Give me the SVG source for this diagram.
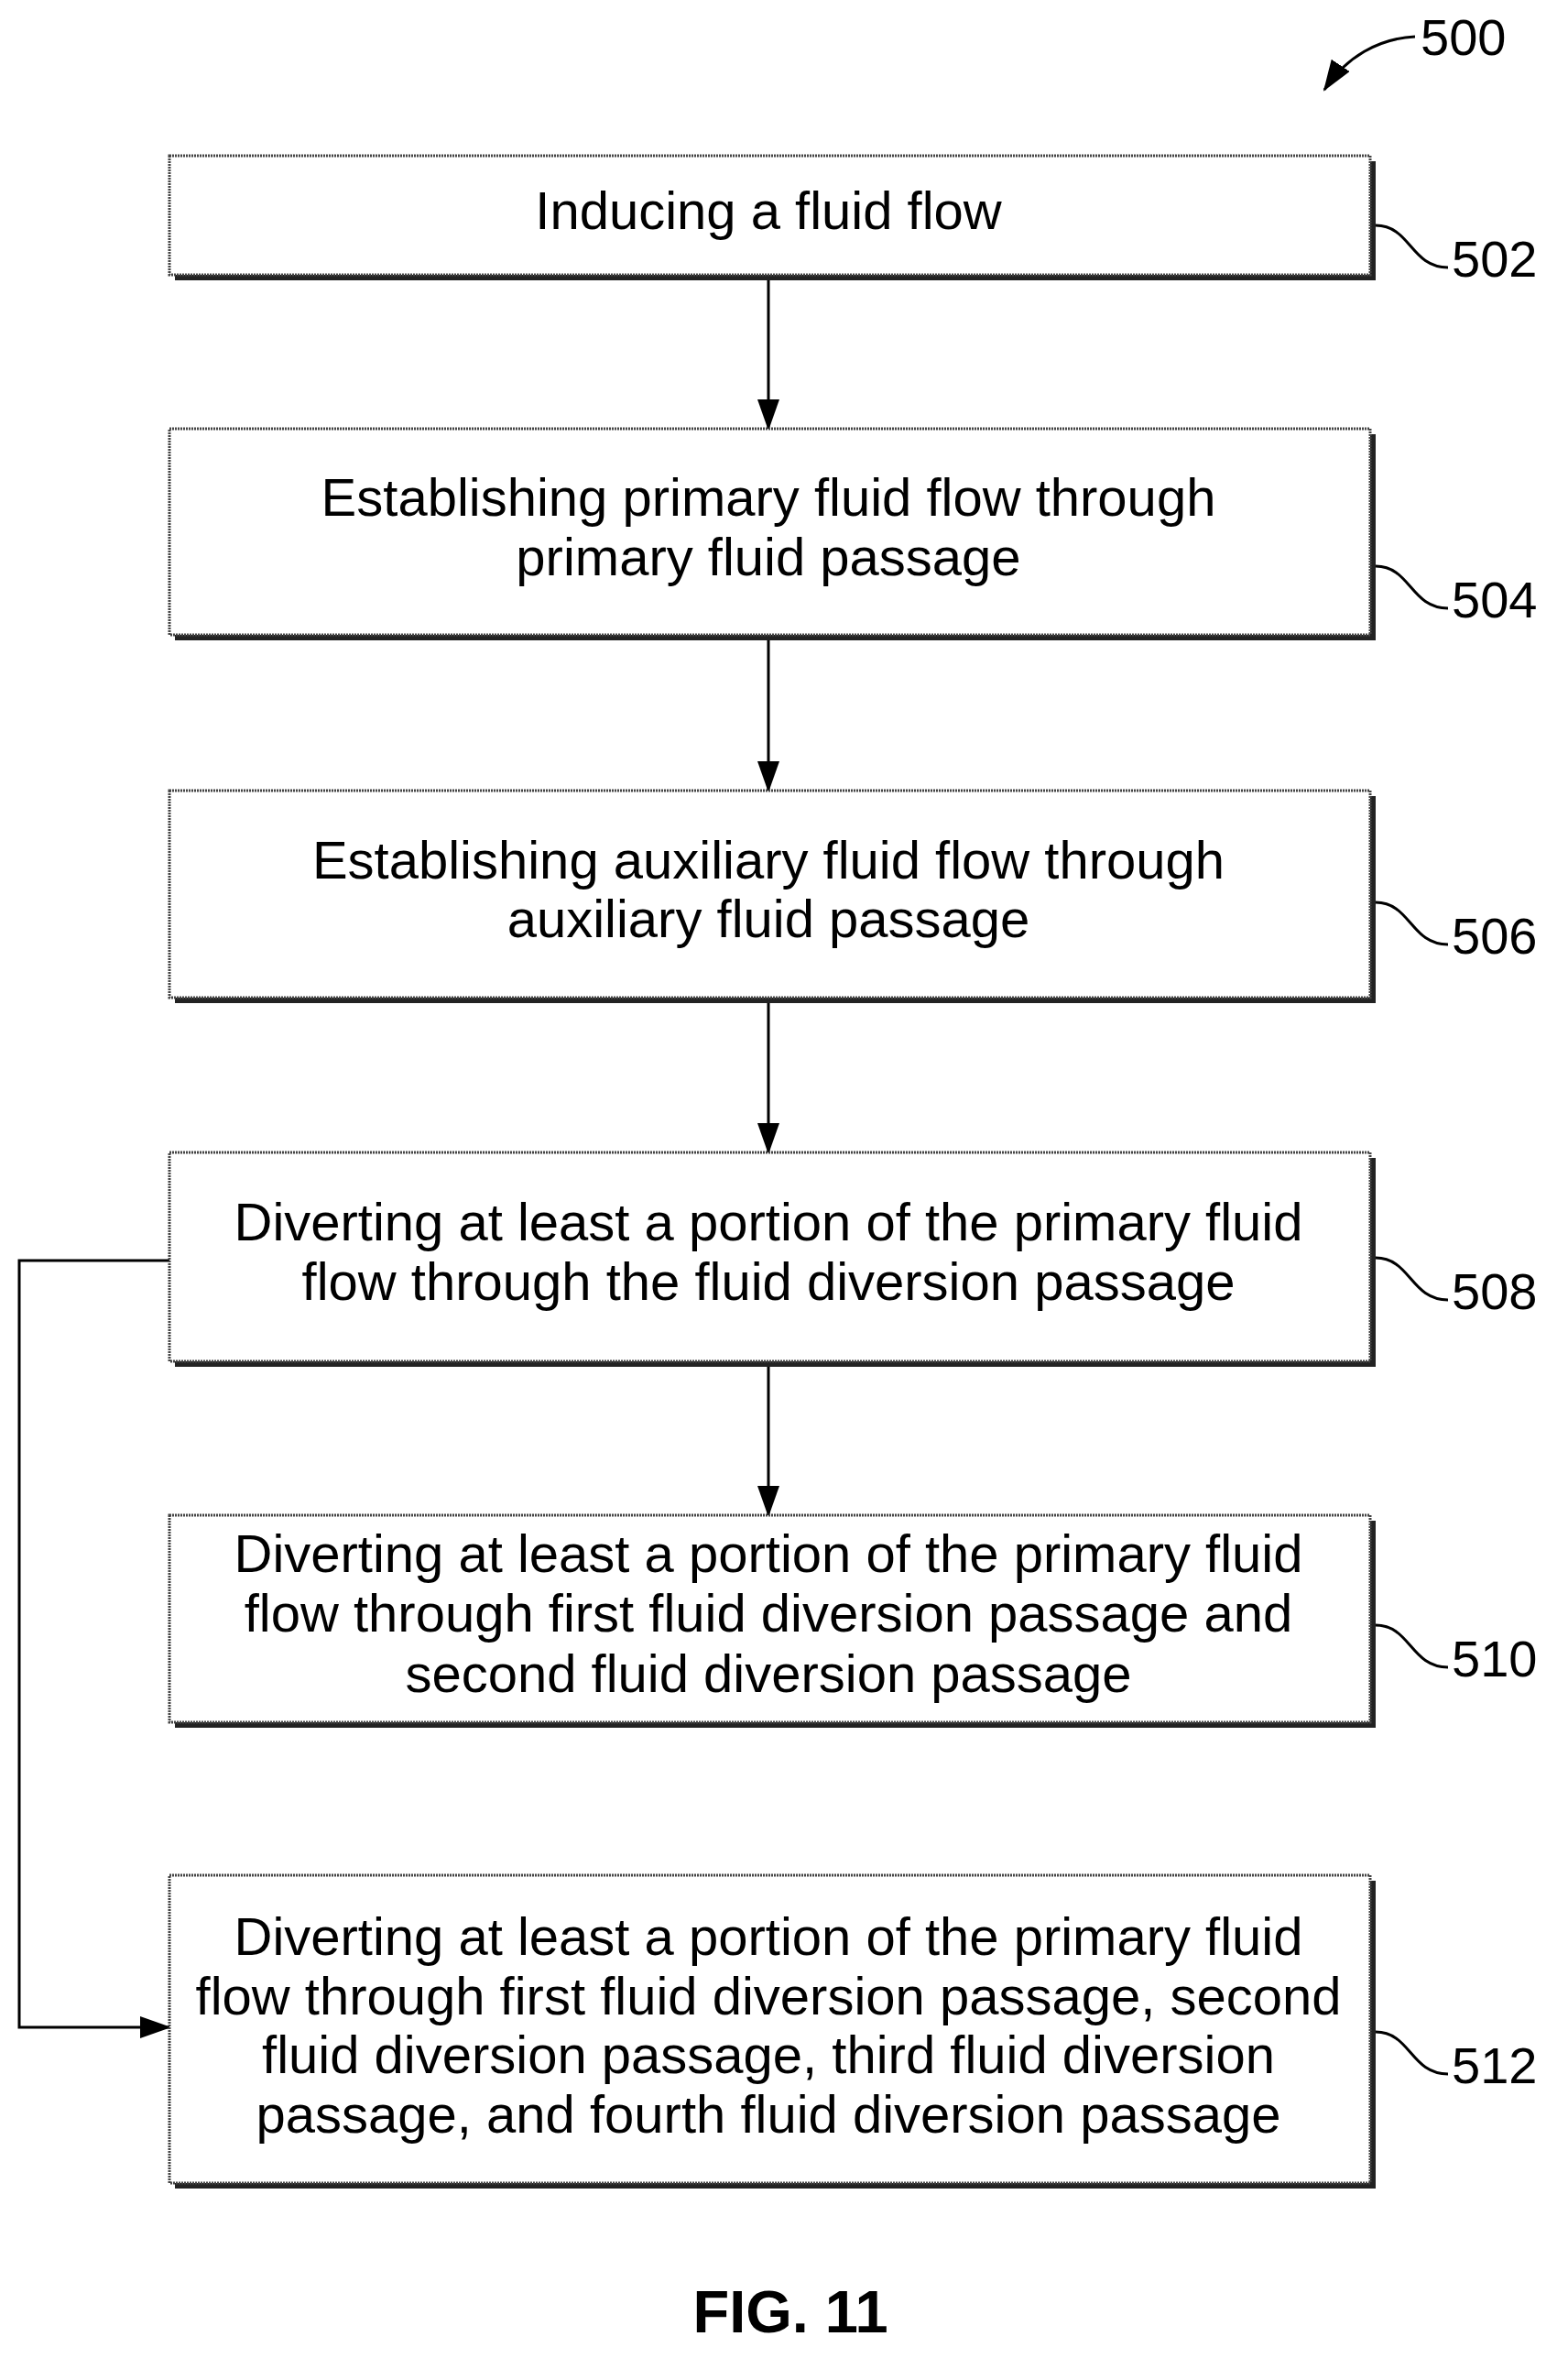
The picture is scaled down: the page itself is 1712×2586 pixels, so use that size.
<svg xmlns="http://www.w3.org/2000/svg" width="1712" height="2586" viewBox="0 0 1712 2586">
<style>
.box{fill:#fff;stroke:#444;stroke-width:3;stroke-dasharray:2 1}
.sh{fill:#222}
.t{font-family:"Liberation Sans",Arial,sans-serif;font-size:58px;text-anchor:middle;fill:#000}
.lb{font-family:"Liberation Sans",Arial,sans-serif;font-size:56px;fill:#000}
.ln{fill:none;stroke:#000;stroke-width:3}
</style>
<defs>
<marker id="b" markerWidth="34" markerHeight="24" refX="32" refY="12" orient="auto" markerUnits="userSpaceOnUse"><path d="M0,0L34,12L0,24z" fill="#000"/></marker></defs>
<g id="connectors">
<line class="ln" x1="839" y1="300" x2="839" y2="468" marker-end="url(#b)"/>
<line class="ln" x1="839" y1="693" x2="839" y2="863" marker-end="url(#b)"/>
<line class="ln" x1="839" y1="1089" x2="839" y2="1258" marker-end="url(#b)"/>
<line class="ln" x1="839" y1="1486" x2="839" y2="1654" marker-end="url(#b)"/>
<polyline class="ln" points="185,1376 21,1376 21,2213 185,2213" marker-end="url(#b)"/>
<path class="ln" d="M1545,40 C1505,42 1470,62 1446,98" marker-end="url(#b)"/>
</g>
<g id="n502"><rect class="sh" x="191" y="176" width="1311" height="130"/><rect class="box" x="185" y="170" width="1311" height="130"/>
<text class="t" x="839" y="250">Inducing a fluid flow</text>
<path class="ln" d="M1502,246 C1540,246 1540,292 1581,292"/><text class="lb" x="1585" y="302">502</text></g>
<g id="n504"><rect class="sh" x="191" y="474" width="1311" height="225"/><rect class="box" x="185" y="468" width="1311" height="225"/>
<text class="t" x="839" y="563">Establishing primary fluid flow through</text><text class="t" x="839" y="628">primary fluid passage</text>
<path class="ln" d="M1502,618 C1540,618 1540,664 1581,664"/><text class="lb" x="1585" y="674">504</text></g>
<g id="n506"><rect class="sh" x="191" y="869" width="1311" height="226"/><rect class="box" x="185" y="863" width="1311" height="226"/>
<text class="t" x="839" y="959">Establishing auxiliary fluid flow through</text><text class="t" x="839" y="1023">auxiliary fluid passage</text>
<path class="ln" d="M1502,985 C1540,985 1540,1031 1581,1031"/><text class="lb" x="1585" y="1041">506</text></g>
<g id="n508"><rect class="sh" x="191" y="1264" width="1311" height="228"/><rect class="box" x="185" y="1258" width="1311" height="228"/>
<text class="t" x="839" y="1354">Diverting at least a portion of the primary fluid</text><text class="t" x="839" y="1419">flow through the fluid diversion passage</text>
<path class="ln" d="M1502,1373 C1540,1373 1540,1419 1581,1419"/><text class="lb" x="1585" y="1429">508</text></g>
<g id="n510"><rect class="sh" x="191" y="1660" width="1311" height="226"/><rect class="box" x="185" y="1654" width="1311" height="226"/>
<text class="t" x="839" y="1716">Diverting at least a portion of the primary fluid</text><text class="t" x="839" y="1781">flow through first fluid diversion passage and</text><text class="t" x="839" y="1847">second fluid diversion passage</text>
<path class="ln" d="M1502,1774 C1540,1774 1540,1820 1581,1820"/><text class="lb" x="1585" y="1830">510</text></g>
<g id="n512"><rect class="sh" x="191" y="2053" width="1311" height="336"/><rect class="box" x="185" y="2047" width="1311" height="336"/>
<text class="t" x="839" y="2134">Diverting at least a portion of the primary fluid</text><text class="t" x="839" y="2199">flow through first fluid diversion passage, second</text><text class="t" x="839" y="2263">fluid diversion passage, third fluid diversion</text><text class="t" x="839" y="2328">passage, and fourth fluid diversion passage</text>
<path class="ln" d="M1502,2218 C1540,2218 1540,2264 1581,2264"/><text class="lb" x="1585" y="2274">512</text></g>
<text class="lb" x="1551" y="60">500</text>
<text class="t" x="863" y="2546" style="font-weight:bold;font-size:65px">FIG. 11</text>
</svg>
